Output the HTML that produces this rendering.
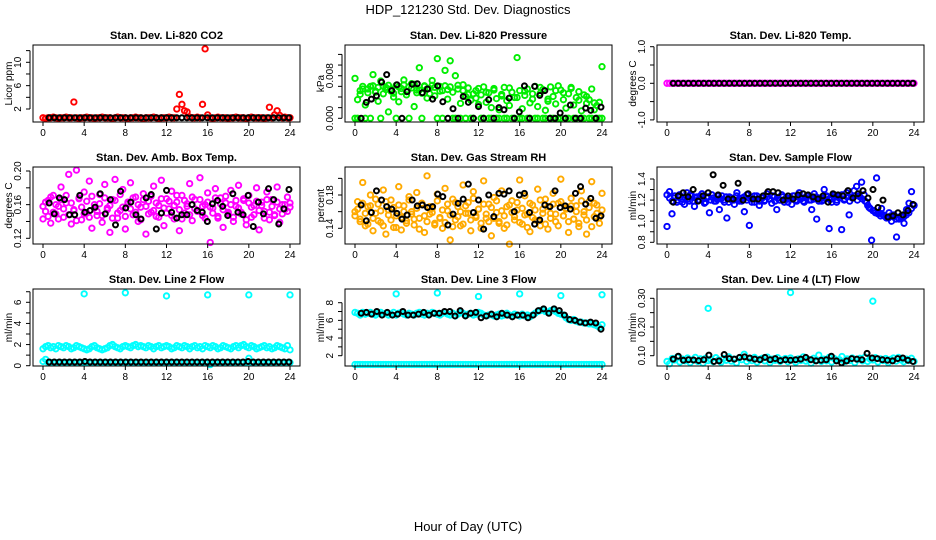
<!DOCTYPE html>
<html><head><meta charset="utf-8"><style>
html,body{margin:0;padding:0;background:#fff;}
svg{display:block;font-family:"Liberation Sans",Arial,sans-serif;}
</style></head><body>
<svg id="chart" width="936" height="540" viewBox="0 0 936 540" xmlns="http://www.w3.org/2000/svg">
<text x="468" y="14" font-size="13" text-anchor="middle">HDP_121230  Std. Dev. Diagnostics</text>
<text x="468" y="531" font-size="13" text-anchor="middle">Hour of Day (UTC)</text>
</svg>
<script>
// ---- data ----
const xTicks = [0,4,8,12,16,20,24];
const co2Red = [0.5,0.4,0.5,0.5,0.6,0.5,0.4,0.5,0.5,0.6,0.5,0.5,3.2,0.5,0.4,0.5,0.5,0.6,0.5,0.5,0.4,0.5,0.5,0.6,0.5,0.5,0.5,0.4,0.5,0.6,0.5,0.5,0.5,0.4,0.5,0.5,0.6,0.5,0.5,0.4,0.5,0.5,0.5,0.6,0.5,0.4,0.5,0.5,0.5,0.6,0.5,0.5,2.0,4.5,2.8,1.7,1.5,0.6,0.5,0.5,0.6,0.5,2.8,12.3,1.0,0.5,0.4,0.5,0.6,0.5,0.5,0.5,0.4,0.5,0.5,0.6,0.5,0.5,0.5,0.4,0.5,0.6,0.5,0.5,0.5,0.5,0.4,0.5,2.3,0.5,1.0,1.7,0.9,0.5,0.6,0.5,0.5];
const co2Black = [0.5,0.5,0.5,0.5,0.5,0.5,0.5,0.5,0.5,0.5,0.5,0.5,0.5,0.5,0.5,0.5,0.5,0.5,0.5,0.5,0.5,0.5,0.5,0.5,0.5,0.5,0.5,0.5,0.5,0.5,0.5,0.5,0.5,0.5,0.5,0.5,0.5,0.5,0.5,0.5,0.5,0.5,0.5,0.5,0.5,0.5,0.5,0.5];
// pressure in units of 0.001 kPa
const presGreenA = [7.5,3.5,4.5,5.5,2.5,4.8,6.0,8.2,5.1,3.2,7.0,4.6,5.8,1.2,5.5,4.0,6.2,3.1,5.0,7.2,4.4,5.9,6.5,2.2,5.3,9.5,4.7,6.1,3.8,5.6,7.1,4.2,11.2,6.0,5.2,9.0,3.6,10.8,4.9,8.0,5.5,2.8,6.3,4.1,5.7,3.4,4.6,5.2,2.6,4.4,5.9,3.0,4.8,2.0,5.6,3.7,1.6,4.5,5.8,3.3,2.4,4.9,3.9,11.4,5.2,1.8,4.3,5.5,2.9,3.6,6.0,2.2,4.7,5.4,1.5,3.2,5.9,4.1,2.7,6.1,5.3,3.5,1.9,4.6,5.8,2.5,3.9,5.0,1.4,4.4,2.8,3.5,5.5,1.6,2.4,3.0,9.7];
const presGreenB = [0,0,5.2,6.0,0,5.5,0,6.1,4.9,5.8,0,6.0,5.4,6.2,5.1,4.7,0,5.9,5.6,6.3,5.0,0,5.7,6.4,4.8,5.3,0,6.0,5.5,4.6,6.2,5.8,0,5.1,0,6.1,5.4,5.9,0,0,6.2,0,5.2,0,4.5,0,0,3.8,5.6,0,0,4.9,0,0,5.3,0,0,4.2,0,0,5.7,0,0,3.9,0,0,5.1,0,0,4.6,0,0,5.8,0,0,3.6,0,0,5.2,0,0,4.8,0,0,5.6,0,0,3.4,0,0,4.1,0,0,2.9,0,0,0];
const presBlack = [0,3.0,3.6,4.2,6.8,8.2,5.2,6.3,0,5.0,6.4,6.5,4.8,5.5,3.6,6.1,3.1,0,1.8,0,4.1,3.0,0,2.2,0,3.5,0,2.0,1.6,3.8,0,1.2,6.1,0,6.0,4.3,5.2,0,0,1.0,0,2.5,0,0,1.9,1.5,0,2.1];
const tempMagenta = [0,0,0,0,0,0,0,0,0,0,0,0,0,0,0,0,0,0,0,0,0,0,0,0,0,0,0,0,0,0,0,0,0,0,0,0,0,0,0,0,0,0,0,0,0,0,0,0,0,0,0,0,0,0,0,0,0,0,0,0,0,0,0,0,0,0,0,0,0,0,0,0,0,0,0,0,0,0,0,0,0,0,0,0,0,0,0,0,0,0,0,0,0,0,0,0,0];
const tempBlack = [0,0,0,0,0,0,0,0,0,0,0,0,0,0,0,0,0,0,0,0,0,0,0,0,0,0,0,0,0,0,0,0,0,0,0,0,0,0,0,0,0,0,0,0,0,0,0,0];
const boxMagentaA = [0.143,0.152,0.165,0.138,0.171,0.149,0.158,0.181,0.145,0.162,0.196,0.137,0.154,0.201,0.168,0.142,0.175,0.150,0.188,0.132,0.160,0.147,0.172,0.139,0.184,0.156,0.127,0.166,0.190,0.144,0.153,0.178,0.131,0.161,0.186,0.148,0.169,0.140,0.157,0.173,0.125,0.164,0.151,0.182,0.146,0.159,0.189,0.135,0.167,0.155,0.176,0.143,0.163,0.129,0.171,0.150,0.158,0.185,0.141,0.166,0.153,0.192,0.147,0.160,0.174,0.115,0.156,0.179,0.144,0.168,0.133,0.162,0.151,0.177,0.140,0.158,0.183,0.149,0.165,0.136,0.171,0.145,0.159,0.180,0.130,0.163,0.152,0.175,0.142,0.166,0.148,0.181,0.139,0.160,0.154,0.169,0.162];
const boxMagentaB = [0.158,0.163,0.146,0.169,0.151,0.160,0.143,0.166,0.155,0.171,0.148,0.162,0.153,0.141,0.167,0.157,0.149,0.164,0.145,0.170,0.156,0.152,0.161,0.147,0.168,0.154,0.159,0.144,0.165,0.150,0.172,0.157,0.146,0.163,0.155,0.168,0.151,0.160,0.142,0.166,0.158,0.149,0.170,0.153,0.162,0.145,0.167,0.156,0.150,0.164,0.147,0.159,0.171,0.154,0.143,0.165,0.161,0.148,0.169,0.155,0.152,0.166,0.158,0.144,0.163,0.157,0.150,0.168,0.146,0.161,0.154,0.170,0.149,0.160,0.145,0.165,0.156,0.151,0.167,0.142,0.162,0.157,0.148,0.164,0.153,0.159,0.144,0.166,0.151,0.158,0.147,0.163,0.155,0.149,0.160,0.152,0.157];
const boxBlack = [0.162,0.149,0.168,0.166,0.148,0.148,0.171,0.151,0.153,0.157,0.173,0.149,0.166,0.136,0.176,0.156,0.163,0.148,0.143,0.168,0.172,0.131,0.150,0.177,0.151,0.144,0.148,0.148,0.160,0.153,0.151,0.140,0.161,0.165,0.158,0.147,0.173,0.151,0.148,0.171,0.134,0.163,0.149,0.179,0.166,0.137,0.155,0.178];
const rhOrangeA = [0.160,0.172,0.151,0.195,0.143,0.166,0.180,0.137,0.158,0.169,0.147,0.186,0.133,0.162,0.174,0.141,0.155,0.190,0.138,0.167,0.149,0.178,0.160,0.144,0.183,0.152,0.170,0.135,0.203,0.157,0.164,0.146,0.181,0.153,0.140,0.188,0.161,0.126,0.175,0.150,0.166,0.143,0.192,0.158,0.171,0.137,0.184,0.155,0.163,0.146,0.197,0.152,0.169,0.131,0.177,0.159,0.148,0.185,0.140,0.166,0.121,0.173,0.154,0.162,0.198,0.145,0.179,0.157,0.136,0.168,0.150,0.187,0.143,0.163,0.175,0.139,0.158,0.182,0.148,0.170,0.199,0.155,0.164,0.135,0.176,0.151,0.167,0.142,0.185,0.160,0.133,0.172,0.196,0.154,0.168,0.146,0.182];
const rhOrangeB = [0.155,0.163,0.148,0.170,0.158,0.145,0.167,0.152,0.175,0.149,0.161,0.143,0.172,0.156,0.150,0.165,0.141,0.168,0.153,0.160,0.146,0.174,0.157,0.151,0.164,0.139,0.170,0.155,0.148,0.166,0.159,0.144,0.173,0.152,0.162,0.147,0.169,0.156,0.142,0.171,0.154,0.160,0.145,0.167,0.158,0.150,0.176,0.153,0.163,0.140,0.169,0.157,0.148,0.165,0.152,0.173,0.146,0.161,0.155,0.144,0.168,0.159,0.150,0.171,0.147,0.164,0.156,0.141,0.170,0.153,0.162,0.149,0.174,0.158,0.145,0.166,0.152,0.169,0.157,0.143,0.172,0.155,0.163,0.148,0.167,0.151,0.160,0.146,0.173,0.156,0.150,0.165,0.142,0.170,0.158,0.153,0.162];
const rhBlack = [0.168,0.149,0.159,0.185,0.174,0.166,0.163,0.158,0.151,0.156,0.174,0.167,0.168,0.165,0.166,0.181,0.178,0.144,0.157,0.170,0.175,0.193,0.159,0.174,0.139,0.180,0.154,0.182,0.181,0.185,0.160,0.180,0.182,0.159,0.145,0.150,0.168,0.166,0.185,0.165,0.167,0.163,0.182,0.190,0.169,0.176,0.152,0.155];
const flowBlueA = [0.95,1.28,1.07,1.22,1.18,1.25,1.21,1.16,1.27,1.19,1.24,1.14,1.23,1.20,1.26,1.17,1.22,1.08,1.25,1.19,1.21,1.11,1.24,1.18,1.03,1.23,1.20,1.16,1.27,1.19,1.22,1.09,1.25,0.96,1.21,1.18,1.24,1.15,1.22,1.19,1.26,1.21,1.17,1.23,1.11,1.20,1.25,1.18,1.22,1.21,1.16,1.24,1.19,1.27,1.22,1.18,1.24,1.20,1.11,1.26,1.02,1.22,1.19,1.30,1.23,0.93,1.21,1.25,1.18,1.24,0.92,1.20,1.27,1.06,1.23,1.29,1.33,1.24,1.37,1.25,1.18,1.13,0.82,1.10,1.41,1.08,1.12,1.05,1.03,1.08,1.00,1.06,0.85,1.02,1.04,0.98,1.11,1.17,1.28,1.15];
const flowBlueB = [1.25,1.22,1.19,1.24,1.20,1.23,1.18,1.22,1.21,1.25,1.19,1.22,1.20,1.24,1.21,1.18,1.23,1.20,1.22,1.19,1.24,1.21,1.20,1.23,1.18,1.22,1.20,1.24,1.21,1.19,1.23,1.20,1.22,1.18,1.24,1.21,1.19,1.22,1.20,1.23,1.21,1.24,1.19,1.22,1.20,1.23,1.21,1.18,1.22,1.24,1.20,1.23,1.21,1.19,1.22,1.24,1.20,1.21,1.23,1.19,1.22,1.20,1.24,1.21,1.18,1.23,1.20,1.22,1.25,1.21,1.23,1.19,1.22,1.24,1.20,1.23,1.21,1.19,1.15,1.12,1.10,1.08,1.07,1.05,1.06,1.04,1.03,1.05,1.04,1.02,1.03,1.05,1.04,1.06,1.08,1.12,1.15];
const flowBlack = [1.18,1.24,1.27,1.23,1.30,1.19,1.24,1.27,1.44,1.25,1.34,1.21,1.21,1.36,1.20,1.26,1.21,1.21,1.24,1.28,1.28,1.27,1.20,1.24,1.21,1.25,1.26,1.25,1.23,1.21,1.24,1.18,1.26,1.25,1.24,1.29,1.22,1.26,1.29,1.22,1.30,1.13,1.20,1.04,1.05,1.08,1.06,1.10,1.16];
const line2CyanA = [1.6,1.8,1.9,1.7,1.8,1.6,1.9,1.8,1.7,1.9,1.8,1.6,1.7,1.9,1.8,1.7,1.6,1.5,1.6,1.8,1.9,1.7,1.6,1.5,1.6,1.7,1.9,2.0,1.8,1.7,1.6,1.8,1.9,1.8,1.7,1.9,2.0,1.8,1.9,1.8,1.7,1.9,1.8,1.6,1.8,1.9,1.7,1.8,1.9,1.8,1.6,1.7,1.9,1.8,1.7,1.9,1.8,1.6,1.8,1.9,1.7,1.8,1.6,1.9,1.8,1.7,1.9,1.8,1.6,1.7,1.9,1.8,1.7,1.6,1.8,1.9,1.7,1.9,2.0,1.8,1.7,1.9,1.8,1.6,1.7,1.8,1.9,1.7,1.8,1.6,1.7,1.9,1.8,1.7,1.6,1.9,1.5];
const line2CyanB = [0.4,0.6,0.3,0.3,0.3,0.3,0.3,0.3,0.3,0.3,0.3,0.3,0.3,0.3,0.3,0.3,0.3,0.3,0.3,0.3,0.3,0.3,0.3,0.3,0.3,0.3,0.3,0.3,0.3,0.3,0.3,0.3,0.3,0.3,0.3,0.3,0.3,0.3,0.3,0.3,0.3,0.3,0.3,0.3,0.3,0.3,0.3,0.3,0.3,0.3,0.3,0.3,0.3,0.3,0.3,0.3,0.3,0.3,0.3,0.3,0.3,0.3,0.3,0.3,0.3,0.1,0.3,0.3,0.3,0.3,0.3,0.3,0.3,0.3,0.3,0.3,0.3,0.3,0.3,0.3,0.7,0.3,0.3,0.3,0.3,0.3,0.3,0.3,0.3,0.3,0.3,0.3,0.3,0.3,0.3,0.3,0.3];
const line2OutHours = [4,8,12,16,20,24];
const line2OutVals = [6.8,6.9,6.6,6.7,6.7,6.7];
const line2Black = [0.35,0.35,0.35,0.35,0.35,0.35,0.35,0.4,0.35,0.35,0.35,0.35,0.35,0.35,0.35,0.35,0.35,0.35,0.35,0.35,0.35,0.35,0.35,0.35,0.35,0.35,0.35,0.35,0.35,0.35,0.35,0.35,0.35,0.35,0.35,0.35,0.35,0.35,0.35,0.4,0.35,0.35,0.35,0.35,0.35,0.35,0.35,0.35];
const line3CyanA = [6.9,6.8,6.6,6.9,6.7,6.8,6.9,6.7,6.6,6.8,6.9,6.7,6.8,6.6,6.7,6.9,6.6,6.8,6.9,6.7,6.6,6.8,6.7,6.6,6.8,6.9,6.7,6.6,6.8,6.7,6.9,6.8,6.7,6.6,6.8,6.9,6.7,6.6,6.8,6.5,6.7,6.9,6.8,6.6,6.7,6.8,6.6,6.7,6.9,6.8,6.6,6.5,6.6,6.7,6.5,6.6,6.7,6.5,6.6,6.8,6.6,6.5,6.7,6.6,6.5,6.7,6.5,6.6,6.4,6.6,6.8,7.0,7.1,7.2,7.0,6.9,7.1,7.2,7.0,6.8,6.7,6.6,6.3,6.1,6.0,6.1,5.9,5.8,5.8,5.7,5.7,5.6,5.6,5.5,5.4,5.2,5.5];
const line3CyanB = [1.0,1.0,1.0,1.0,1.0,1.0,1.0,1.0,1.0,1.0,1.0,1.0,1.0,1.0,1.0,1.0,1.0,1.0,1.0,1.0,1.0,1.0,1.0,1.0,1.0,1.0,1.0,1.0,1.0,1.0,1.0,1.0,1.0,1.0,1.0,1.0,1.0,1.0,1.0,1.0,1.0,1.0,1.0,1.0,1.0,1.0,1.0,1.0,1.0,1.0,1.0,1.0,1.0,1.0,1.0,1.0,1.0,1.0,1.0,1.0,1.0,1.0,1.0,1.0,1.0,1.0,1.0,1.0,1.0,1.0,1.0,1.0,1.0,1.0,1.0,1.0,1.0,1.0,1.0,1.0,1.0,1.0,1.0,1.0,1.0,1.0,1.0,1.0,1.0,1.0,1.0,1.0,1.0,1.0,1.0,1.0,1.0];
const line3OutHours = [4,8,12,16,20,24];
const line3OutVals = [9.0,9.1,8.7,9.0,8.8,8.9];
const line3Black = [6.8,6.9,6.7,7.0,6.6,6.9,6.6,6.7,7.0,6.6,6.6,6.7,6.9,6.6,6.8,6.8,7.0,7.0,6.5,7.1,6.5,6.8,6.9,6.3,6.5,6.7,6.4,6.8,6.6,6.4,6.6,6.6,6.3,6.6,7.1,7.3,6.8,7.3,7.1,6.6,6.1,6.0,5.8,5.7,5.8,5.7,5.0];
const line4Cyan = [0.080,0.072,0.090,0.085,0.095,0.078,0.088,0.082,0.092,0.076,0.086,0.094,0.080,0.089,0.074,0.091,0.083,0.087,0.079,0.093,0.085,0.077,0.090,0.084,0.096,0.081,0.088,0.075,0.092,0.086,0.105,0.080,0.089,0.083,0.094,0.078,0.087,0.091,0.082,0.095,0.076,0.088,0.084,0.093,0.080,0.086,0.090,0.079,0.092,0.085,0.077,0.089,0.083,0.096,0.081,0.087,0.074,0.091,0.085,0.102,0.080,0.088,0.082,0.094,0.078,0.090,0.084,0.086,0.097,0.079,0.089,0.083,0.092,0.076,0.087,0.091,0.082,0.095,0.080,0.088,0.085,0.093,0.078,0.089,0.083,0.090,0.076,0.087,0.092,0.081,0.094,0.085,0.079,0.088,0.083,0.091,0.080];
const line4OutHours = [4,12,20];
const line4OutVals = [0.265,0.320,0.290];
const line4Black = [0.088,0.098,0.084,0.086,0.085,0.083,0.086,0.102,0.080,0.082,0.104,0.090,0.088,0.094,0.096,0.092,0.088,0.086,0.094,0.086,0.090,0.083,0.086,0.084,0.086,0.088,0.094,0.086,0.082,0.084,0.086,0.098,0.082,0.075,0.082,0.090,0.088,0.086,0.108,0.092,0.090,0.086,0.084,0.082,0.090,0.092,0.084,0.080];

// ---- layout ----
const svg = document.getElementById('chart');
const NS = 'http://www.w3.org/2000/svg';
const colX = [0,312,624];
const rowTop = [45,167,289];
const BOX_L = 33, BOX_R = 300, BOX_H = 77;
const X0 = 43, X24 = 290;

function mk(tag, attrs, parent){
  const e = document.createElementNS(NS, tag);
  for (const k in attrs) e.setAttribute(k, attrs[k]);
  (parent||svg).appendChild(e);
  return e;
}

const panels = [
 {name:'co2', title:'Stan. Dev. Li-820 CO2', ylab:'Licor ppm', col:0,row:0, v0:2,p0:109,v1:10,p1:62.3,
  ticks:[2,4,6,8,10,12], labels:[[2,'2'],[6,'6'],[10,'10']],
  series:[[co2Red,'#ff0000']], black:co2Black},
 {name:'pressure', title:'Stan. Dev. Li-820 Pressure', ylab:'kPa', col:1,row:0, v0:0,p0:118.3,v1:8,p1:75.7,
  ticks:[0,2,4,6,8,10,12], labels:[[0,'0.000'],[8,'0.008']],
  series:[[presGreenB,'#00ee00'],[presGreenA,'#00ee00']], black:presBlack},
 {name:'temp', title:'Stan. Dev. Li-820 Temp.', ylab:'degrees C', col:2,row:0, v0:0,p0:83.3,v1:1,p1:46.7,
  ticks:[-1,-0.5,0,0.5,1], labels:[[-1,'-1.0'],[0,'0.0'],[1,'1.0']],
  series:[[tempMagenta,'#ff00ff']], black:tempBlack},
 {name:'box-temp', title:'Stan. Dev. Amb. Box Temp.', ylab:'degrees C', col:0,row:1, v0:0.12,p0:238.3,v1:0.20,p1:171,
  ticks:[0.12,0.14,0.16,0.18,0.20], labels:[[0.12,'0.12'],[0.16,'0.16'],[0.20,'0.20']],
  series:[[boxMagentaA,'#ff00ff'],[boxMagentaB,'#ff00ff']], black:boxBlack},
 {name:'rh', title:'Stan. Dev. Gas Stream RH', ylab:'percent', col:1,row:1, v0:0.14,p0:228.3,v1:0.18,p1:195,
  ticks:[0.14,0.16,0.18,0.20], labels:[[0.14,'0.14'],[0.18,'0.18']],
  series:[[rhOrangeA,'#ffaa00'],[rhOrangeB,'#ffaa00']], black:rhBlack},
 {name:'sample-flow', title:'Stan. Dev. Sample Flow', ylab:'ml/min', col:2,row:1, v0:0.8,p0:242.3,v1:1.4,p1:179,
  ticks:[0.8,0.9,1.0,1.1,1.2,1.3,1.4], labels:[[0.8,'0.8'],[1.0,'1.0'],[1.2,'1.2'],[1.4,'1.4']],
  series:[[flowBlueA,'#0000ff'],[flowBlueB,'#0000ff']], black:flowBlack},
 {name:'line2-flow', title:'Stan. Dev. Line 2 Flow', ylab:'ml/min', col:0,row:2, v0:0,p0:365.7,v1:6,p1:302.3,
  ticks:[0,1,2,3,4,5,6,7], labels:[[0,'0'],[2,'2'],[4,'4'],[6,'6']],
  series:[[line2CyanA,'#00ffff'],[line2CyanB,'#00ffff']], out:[line2OutHours,line2OutVals], black:line2Black},
 {name:'line3-flow', title:'Stan. Dev. Line 3 Flow', ylab:'ml/min', col:1,row:2, v0:2,p0:355.7,v1:8,p1:302.7,
  ticks:[2,3,4,5,6,7,8], labels:[[2,'2'],[4,'4'],[6,'6'],[8,'8']],
  series:[[line3CyanA,'#00ffff'],[line3CyanB,'#00ffff']], out:[line3OutHours,line3OutVals], black:line3Black},
 {name:'line4-flow', title:'Stan. Dev. Line 4 (LT) Flow', ylab:'ml/min', col:2,row:2, v0:0.10,p0:355.7,v1:0.30,p1:298.3,
  ticks:[0.10,0.15,0.20,0.25,0.30], labels:[[0.10,'0.10'],[0.20,'0.20'],[0.30,'0.30']],
  series:[[line4Cyan,'#00ffff']], out:[line4OutHours,line4OutVals], black:line4Black}
];

panels.forEach(p => {
  const ox = colX[p.col], top = rowTop[p.row], bot = top + BOX_H;
  const xs = h => ox + X0 + (X24 - X0) * h / 24;
  const ys = v => p.p0 + (v - p.v0) * (p.p1 - p.p0) / (p.v1 - p.v0);
  const g = mk('g', {});
  
  

  const t = mk('text', {x: ox + (BOX_L + BOX_R) / 2, y: top - 6, 'font-size': 11, 'font-weight': 'bold', 'text-anchor': 'middle'}, g);
  t.textContent = p.title;
  
  

  const pts = mk('g', {fill: 'none', 'stroke-width': 1.9}, g);
  
  
  p.series.forEach(([arr, col]) => {
    const n = arr.length;
    arr.forEach((v, i) => {
      const c = mk('circle', {cx: xs(24 * i / (n - 1)), cy: ys(v), r: 2.7, stroke: col}, pts);
      
      
    });
  });
  if (p.out) {
    p.out[0].forEach((h, i) => {
      const c = mk('circle', {cx: xs(h), cy: ys(p.out[1][i]), r: 2.7, stroke: p.series[0][1]}, pts);
      
      
    });
  }
  const nb = p.black.length;
  p.black.forEach((v, i) => {
    const c = mk('circle', {cx: xs(0.6 + 23.3 * i / (nb - 1)), cy: ys(v), r: 2.5, stroke: '#000', 'stroke-width': 2}, pts);
    
    
  });

  const b = mk('rect', {x: ox + BOX_L, y: top, width: BOX_R - BOX_L, height: BOX_H, fill: 'none', stroke: '#000', 'stroke-width': 1}, g);
  
  

  const xa = mk('g', {stroke: '#000', 'stroke-width': 1}, g);
  
  
  xTicks.forEach(h => {
    mk('line', {x1: xs(h), x2: xs(h), y1: bot, y2: bot + 4}, xa);
    const l = mk('text', {x: xs(h), y: bot + 14, 'font-size': 10, 'text-anchor': 'middle', stroke: 'none'}, xa);
    l.textContent = h;
    
    
  });

  const ya = mk('g', {stroke: '#000', 'stroke-width': 1}, g);
  
  
  const ty = p.ticks.map(ys);
  mk('line', {x1: ox + BOX_L - 3, x2: ox + BOX_L - 3, y1: Math.min(...ty), y2: Math.max(...ty)}, ya);
  ty.forEach(y => mk('line', {x1: ox + BOX_L - 7, x2: ox + BOX_L - 3, y1: y, y2: y}, ya));
  p.labels.forEach(([v, s]) => {
    const y = ys(v), x = ox + 21;
    const l = mk('text', {x: x, y: y, 'font-size': 10, 'text-anchor': 'middle', stroke: 'none', transform: `rotate(-90 ${x} ${y})`}, ya);
    l.textContent = s;
    
    
  });
  const yc = top + BOX_H / 2, yx = ox + 12;
  const yl = mk('text', {x: yx, y: yc, 'font-size': 10, 'text-anchor': 'middle', transform: `rotate(-90 ${yx} ${yc})`}, g);
  yl.textContent = p.ylab;
  
  
});
</script>
</body></html>
